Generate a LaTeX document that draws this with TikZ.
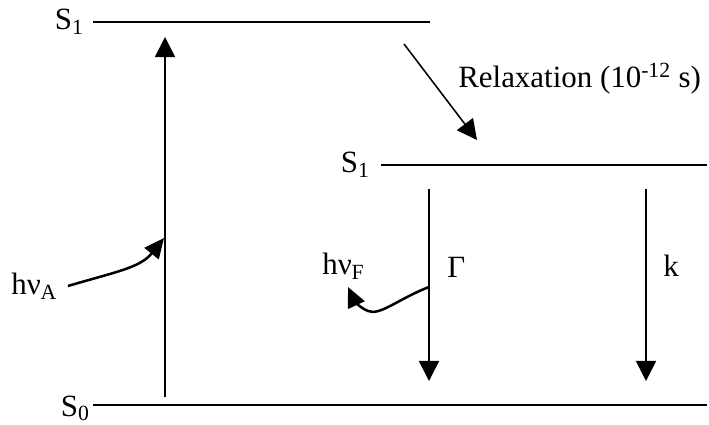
\documentclass[tikz,border=0pt]{standalone}
\usepackage{fontspec}
\setmainfont{Liberation Serif}
\usetikzlibrary{arrows.meta,positioning}

\begin{document}
\begin{tikzpicture}[
    x=0.025cm, y=-0.025cm,
    font=\fontsize{22}{26}\selectfont,
    level/.style={line width=1.2pt},
    lbl/.style={inner sep=0pt, anchor=base west},
    lvl/.style={inner sep=0pt, anchor=base east},
    arrow/.style={-{Triangle[length=0.5cm,width=0.5cm]}, line width=1.1pt},
    photon/.style={-{Triangle[length=0.5cm,width=0.45cm]}, line width=1.8pt}
]
\useasboundingbox (0,0) rectangle (709,425);

% levels
\coordinate (t0) at (93,22);
\coordinate (t1) at (430,22);
\coordinate (m0) at (381,165);
\coordinate (m1) at (707,165);
\coordinate (b0) at (93,405);
\coordinate (b1) at (707,405);

\draw[level] (t0) -- (t1);
\draw[level] (m0) -- (m1);
\draw[level, line width=1.8pt] (b0) -- (b1);

\node[lvl] (s1top) at (84,30) {S\textsubscript{1}};
\node[lvl] (s1mid) at (370,173) {S\textsubscript{1}};
\node[lvl] (s0) at (90,416) {S\textsubscript{0}};

% transitions
\coordinate (up0) at (165,397);
\coordinate (up1) at (165,37);
\coordinate (rel0) at (404,44);
\coordinate (rel1) at (477,140);
\coordinate (gam0) at (429,189);
\coordinate (gam1) at (429,381);
\coordinate (k0) at (646,189);
\coordinate (k1) at (646,381);

\draw[arrow] (up0) -- (up1);
\draw[arrow] (rel0) -- (rel1);
\draw[arrow] (gam0) -- (gam1);
\draw[arrow] (k0) -- (k1);

\node[lbl] (relax) at (458,88) {Relaxation (10\textsuperscript{-12} s)};
\node[lbl] (gam) at (447,278) {Γ};
\node[lbl] (krate) at (663,277) {k};

% photons
\node[lbl] (hva) at (11,295) {hν\textsubscript{A}};
\node[lbl] (hvf) at (322,275) {hν\textsubscript{F}};
\coordinate (pa0) at (68,286);
\coordinate (pa1) at (164,238);
\coordinate (pf0) at (429,287);
\coordinate (pf1) at (348,287);

\draw[photon] (pa0) .. controls (115,272) and (140,268) .. (pa1);
\draw[photon] (pf0) .. controls (398,299) and (380,316) .. (368,311)
    .. controls (360,308) and (354,300) .. (pf1);
\end{tikzpicture}
\end{document}
